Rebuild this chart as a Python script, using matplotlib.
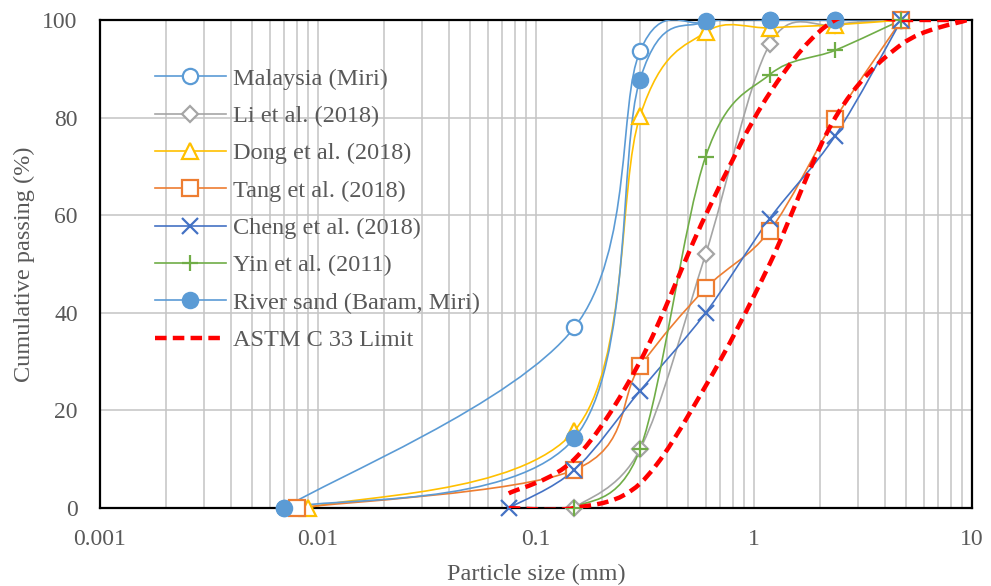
import numpy as np
import matplotlib.pyplot as plt
from matplotlib.path import Path
from matplotlib.patches import PathPatch
from matplotlib.lines import Line2D
from matplotlib.ticker import LogLocator, FixedLocator, NullFormatter

plt.rcParams.update({"font.family": ["Liberation Serif", "DejaVu Serif"], "font.size": 17})

# Datos (tamaño de partícula en mm, % que pasa)
malaysia_x = [0.007, 0.15, 0.3, 0.6, 1.18, 2.36, 4.75]
malaysia_y = [0, 37, 93.6, 99.5, 100, 100, 100]
li_x = [0.15, 0.3, 0.6, 1.18, 2.36, 4.75]
li_y = [0, 12, 52, 95, 99, 100]
dong_x = [0.009, 0.15, 0.3, 0.6, 1.18, 2.36, 4.75]
dong_y = [0, 15.8, 80.3, 97.5, 98.4, 99, 100]
tang_x = [0.008, 0.15, 0.3, 0.6, 1.18, 2.36, 4.75]
tang_y = [0, 7.8, 29, 45, 56.8, 79.8, 100]
cheng_x = [0.075, 0.15, 0.3, 0.6, 1.18, 2.36, 4.75]
cheng_y = [0, 7.8, 24, 40, 59.3, 76.3, 100]
yin_x = [0.15, 0.3, 0.6, 1.18, 2.36, 4.75]
yin_y = [0, 12, 72, 88.8, 93.8, 100]
river_x = [0.007, 0.15, 0.3, 0.6, 1.18, 2.36]
river_y = [0, 14.3, 87.8, 99.7, 100, 100]
astm_x = [0.075, 0.15, 0.3, 0.6, 1.18, 2.36, 4.75, 9.5]
astm_upper = [3, 10, 30, 60, 85, 100, 100, 100]
astm_lower = [0, 0, 5, 25, 50, 80, 95, 100]

x_ticks = [0.001, 0.01, 0.1, 1, 10]
x_tick_labels = ["0.001", "0.01", "0.1", "1", "10"]
y_ticks = [0, 20, 40, 60, 80, 100]


def smooth_path(x, y):
    """Curva suavizada tipo Excel (Bezier sobre log10 x)"""
    lx = np.log10(x)
    y = np.asarray(y, float)
    n = len(lx)
    verts = [(x[0], y[0])]
    codes = [Path.MOVETO]
    for i in range(n - 1):
        a = max(i - 1, 0)
        b = min(i + 2, n - 1)
        c1 = (lx[i] + (lx[i + 1] - lx[a]) / 6, y[i] + (y[i + 1] - y[a]) / 6)
        c2 = (lx[i + 1] - (lx[b] - lx[i]) / 6, y[i + 1] - (y[b] - y[i]) / 6)
        verts += [(10 ** c1[0], c1[1]), (10 ** c2[0], c2[1]), (x[i + 1], y[i + 1])]
        codes += [Path.CURVE4] * 3
    return Path(verts, codes)


fig = plt.figure(figsize=(9.91, 5.86), dpi=100)
ax = fig.add_axes([0.1009, 0.1331, 0.8799, 0.8328])
ax.set_xscale('log')
ax.set_xlim(0.001, 10)
ax.set_ylim(0, 100)

series = [
    (malaysia_x, malaysia_y, '#5B9BD5', 'o', 'white', 11, 'Malaysia (Miri)'),
    (li_x, li_y, '#A5A5A5', 'D', 'white', 8, 'Li et al. (2018)'),
    (dong_x, dong_y, '#FFC000', '^', 'white', 12, 'Dong et al. (2018)'),
    (tang_x, tang_y, '#ED7D31', 's', 'white', 11, 'Tang et al. (2018)'),
    (cheng_x, cheng_y, '#4472C4', 'x', None, 11, 'Cheng et al. (2018)'),
    (yin_x, yin_y, '#70AD47', '+', None, 12, 'Yin et al. (2011)'),
    (river_x, river_y, '#5B9BD5', 'o', '#5B9BD5', 11, 'River sand (Baram, Miri)'),
]

handles = []
for x, y, col, mk, fc, ms, lab in series:
    ax.add_patch(PathPatch(smooth_path(x, y), fc='none', ec=col, lw=1.2, zorder=3))
    kw = dict(marker=mk, ms=ms, mec=col, mew=1.6, ls='none', color=col)
    if fc is not None:
        kw['mfc'] = fc
    ax.plot(x, y, zorder=4, clip_on=False, **kw)
    handles.append(Line2D([], [], color=col, lw=1.2, **{k: v for k, v in kw.items() if k not in ('ls', 'color')}))

dash = (0, (2.6, 1.4))
for ylim in (astm_upper, astm_lower):
    ax.add_patch(PathPatch(smooth_path(astm_x, ylim), fc='none', ec='#FF0000', lw=3.2,
                           ls=dash, zorder=5))
handles.append(Line2D([], [], color='#FF0000', lw=3.2, ls=dash))
labels = [s[-1] for s in series] + ['ASTM C 33 Limit']

ax.xaxis.set_major_locator(FixedLocator(x_ticks))
ax.set_xticklabels(x_tick_labels)
ax.xaxis.set_minor_locator(LogLocator(base=10, subs=np.arange(2, 10)))
ax.xaxis.set_minor_formatter(NullFormatter())
ax.set_yticks(y_ticks)
ax.grid(True, which='both', axis='x', color='#C4C4C4', lw=1.1)
ax.grid(True, which='major', axis='y', color='#C4C4C4', lw=1.1)
ax.set_axisbelow(True)
ax.tick_params(which='both', length=0, colors='#595959', labelsize=17)
ax.tick_params(axis='x', pad=15)
ax.tick_params(axis='y', pad=16)
for s in ax.spines.values():
    s.set_color('black')
    s.set_linewidth(1.6)

ax.set_xlabel('Particle size (mm)', color='#595959', fontsize=17.5, labelpad=10)
ax.set_ylabel('Cumulative passing (%)', color='#595959', fontsize=17.5, labelpad=5)

leg = ax.legend(handles, labels, loc='upper left', bbox_to_anchor=(0.052, 0.922), frameon=False,
                handlelength=2.9, handletextpad=0.3, labelspacing=0.63, fontsize=17.5, borderaxespad=0)
for t in leg.get_texts():
    t.set_color('#595959')

fig.savefig('out.png', dpi=100)
